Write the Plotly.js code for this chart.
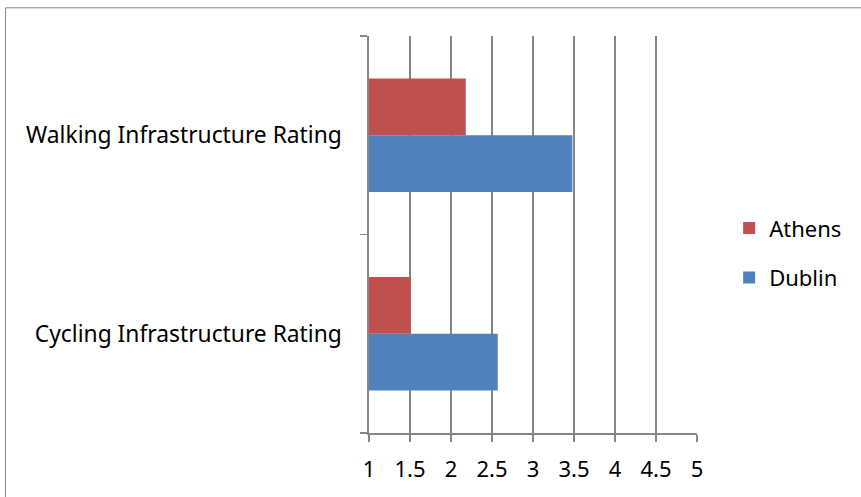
<!DOCTYPE html>
<html>
<head>
<meta charset="utf-8">
<script src="https://cdn.plot.ly/plotly-3.0.1.min.js"></script>
<style>
  html, body { margin: 0; padding: 0; background: #fff; }
  #chart { width: 861px; height: 497px; }
</style>
</head>
<body>
<div id="chart"></div>
<script>
// Infrastructure ratings (scale 1–5) for two cities
const categories = ["Cycling Infrastructure Rating", "Walking Infrastructure Rating"];
const dublinRatings = [2.57, 3.48];
const athensRatings = [1.51, 2.18];
const xTickValues = [1, 1.5, 2, 2.5, 3, 3.5, 4, 4.5, 5];
const xTickLabels = ["1", "1.5", "2", "2.5", "3", "3.5", "4", "4.5", "5"];
const axisMin = 1;

const gridGrey = "#868686";
const textFont = { family: "Noto Sans, sans-serif", size: 22, color: "#000" };
const categoryFont = { family: "Noto Sans, sans-serif", size: 22.8, color: "#000" };

// bars start at the axis minimum: drawn length is value - axisMin
const traces = [
  {
    type: "bar", orientation: "h", name: "Dublin",
    y: categories, x: dublinRatings.map(v => v - axisMin), base: axisMin,
    marker: { color: "#4F81BD" },
    legendgroup: "dublin", legendrank: 2
  },
  {
    type: "bar", orientation: "h", name: "Athens",
    y: categories, x: athensRatings.map(v => v - axisMin), base: axisMin,
    marker: { color: "#C0504D" },
    legendgroup: "athens", legendrank: 1
  }
];

const layout = {
  width: 861, height: 497,
  margin: { l: 369, r: 164, t: 36, b: 64, pad: 0 },
  paper_bgcolor: "#fff", plot_bgcolor: "#fff",
  font: textFont,
  showlegend: true,
  barmode: "group",
  bargap: 1.5 / 3.5,
  bargroupgap: 0,
  xaxis: {
    range: [1, 5],
    tickmode: "array", tickvals: xTickValues, ticktext: xTickLabels,
    showgrid: true, gridcolor: gridGrey, gridwidth: 1.6,
    showline: true, linecolor: gridGrey, linewidth: 1.6,
    ticks: "outside", ticklen: 7, tickcolor: gridGrey, tickwidth: 1.6,
    ticklabelstandoff: 9,
    zeroline: false, fixedrange: true,
    tickfont: textFont
  },
  yaxis: {
    type: "category", categoryorder: "array", categoryarray: categories,
    showline: true, linecolor: gridGrey, linewidth: 1.6,
    ticks: "outside", ticklen: 7, tickcolor: gridGrey, tickwidth: 1.6,
    tickson: "boundaries",
    ticklabelstandoff: 21,
    showgrid: false, zeroline: false, fixedrange: true,
    tickfont: categoryFont
  },
  legend: {
    x: 1.098, xanchor: "left", y: 0.453, yanchor: "middle",
    traceorder: "grouped", tracegroupgap: 18,
    font: textFont, bgcolor: "rgba(0,0,0,0)", borderwidth: 0
  },
  shapes: [
    {
      type: "rect", xref: "paper", yref: "paper", layer: "below",
      x0: -1.108, x1: 1.52, y0: 1.071, y1: -0.2,
      line: { color: gridGrey, width: 1 }, fillcolor: "rgba(0,0,0,0)"
    }
  ]
};

Plotly.newPlot("chart", traces, layout, { displayModeBar: false, staticPlot: true });
</script>
</body>
</html>
